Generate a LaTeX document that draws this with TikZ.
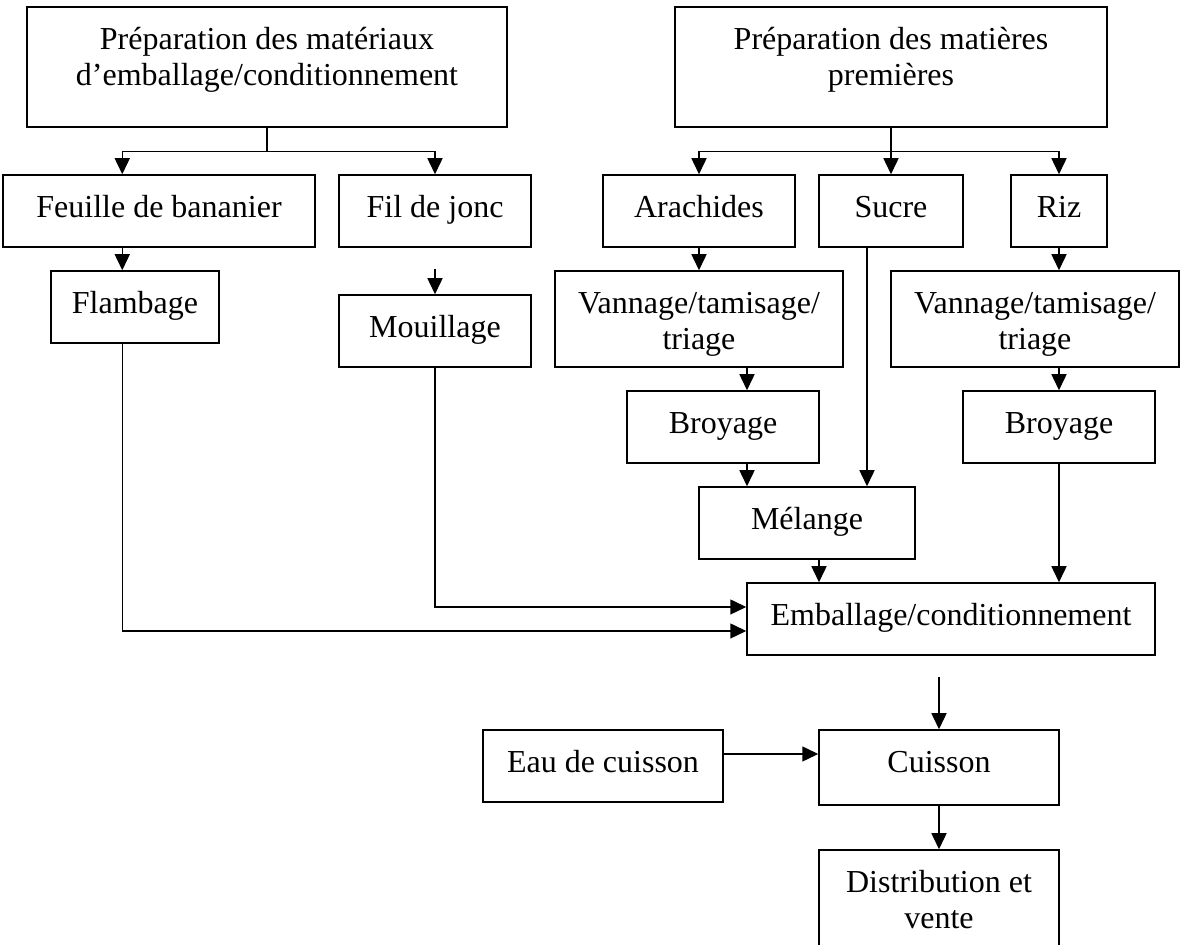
\documentclass[tikz,border=0pt]{standalone}
\usepackage{fontspec}
\setmainfont{Liberation Serif}
\usetikzlibrary{arrows.meta}

\begin{document}
\begin{tikzpicture}[x=0.5pt, y=-0.5pt, line width=.75pt, >={Triangle[length=8pt, width=7.5pt]},
    bx/.style={draw, inner sep=0pt, align=center, font=\fontsize{16}{18}\selectfont, text height=21.5pt},
    hone/.style={minimum height=36pt, text depth=14.5pt},
    htwo/.style={minimum height=48pt, text height=39.5pt, text depth=8.5pt},
    hbig/.style={minimum height=60pt, text height=39.5pt, text depth=20.5pt}]
            \useasboundingbox (0,0) rectangle (1180,945);
            \clip (0,0) rectangle (1180,945);

            \node[bx, hbig, minimum width=240pt] (pm)  at (267,67)  {Préparation des matériaux\\d’emballage/conditionnement};
            \node[bx, hbig, minimum width=216pt] (pmp) at (891,67)  {Préparation des matières\\premières};
            \node[bx, hone, minimum width=156pt] (fb)  at (159,211) {Feuille de bananier};
            \node[bx, hone, minimum width=96pt]  (fj)  at (435,211) {Fil de jonc};
            \node[bx, hone, minimum width=96pt]  (ara) at (699,211) {Arachides};
            \node[bx, hone, minimum width=72pt]  (suc) at (891,211) {Sucre};
            \node[bx, hone, minimum width=48pt]  (riz) at (1059,211) {Riz};
            \node[bx, hone, minimum width=84pt]  (fla) at (135,307) {Flambage};
            \node[bx, hone, minimum width=96pt]  (mou) at (435,331) {Mouillage};
            \node[bx, htwo, minimum width=144pt] (va1) at (699,319) {Vannage/tamisage/\\triage};
            \node[bx, htwo, minimum width=144pt] (va2) at (1035,319) {Vannage/tamisage/\\triage};
            \node[bx, hone, minimum width=96pt]  (br1) at (723,427) {Broyage};
            \node[bx, hone, minimum width=96pt]  (br2) at (1059,427) {Broyage};
            \node[bx, hone, minimum width=108pt] (mel) at (807,523) {Mélange};
            \node[bx, hone, minimum width=204pt] (emb) at (951,619) {Emballage/conditionnement};
            \node[bx, hone, minimum width=120pt] (eau) at (603,766) {Eau de cuisson};
            \node[bx, minimum width=120pt, minimum height=37.5pt, text depth=16pt] (cui) at (939,767.5) {Cuisson};
            \node[bx, hbig, minimum width=120pt] (dis) at (939,910) {Distribution et\\vente};

            \coordinate (ja) at ([yshift=-12pt]pm.south);
            \coordinate (jb) at ([yshift=-12pt]pmp.south);
            \coordinate (fx) at ([xshift=36pt]fla.north west);
            \coordinate (bx) at ([xshift=12pt]br1.north);
            \coordinate (sx) at ([xshift=-12pt]suc.south);
            \coordinate (mx) at ([xshift=6pt]mel.south);
            \coordinate (mi) at ([yshift=12.5pt]mou.north);
            \coordinate (ci) at ([yshift=26pt]cui.north);
            \coordinate (ex) at ([yshift=6pt]eau.east);

            \draw (pm.south) -- (ja);
            \draw[->] (ja) -| (fx |- fb.north);
            \draw[->] (ja) -| (fj.north);
            \draw (pmp.south) -- (jb);
            \draw[->] (jb) -| (ara.north);
            \draw[->] (jb) -- (suc.north);
            \draw[->] (jb) -| (riz.north);

            \draw[->] (fx |- fb.south) -- (fx);
            \draw[->] (mi) -- (mou.north);
            \draw[->] (ara.south) -- (va1.north);
            \draw[->] (riz.south) -- (riz.south |- va2.north);
            \draw[->] (bx |- va1.south) -- (bx);
            \draw[->] (va2.south -| br2.north) -- (br2.north);
            \draw[->] (bx |- br1.south) -- (bx |- mel.north);
            \draw[->] (sx) -- (sx |- mel.north);
            \draw[->] (mx) -- (mx |- emb.north);
            \draw[->] (br2.south) -- (br2.south |- emb.north);
            \draw[->] (mou.south) |- ([yshift=6pt]emb.west);
            \draw[->] (fx |- fla.south) |- ([yshift=-6pt]emb.west);

            \draw[->] (ci) -- (cui.north);
            \draw[->] (ex) -- (ex -| cui.west);
            \draw[->] (cui.south) -- (dis.north);
\end{tikzpicture}
\end{document}
